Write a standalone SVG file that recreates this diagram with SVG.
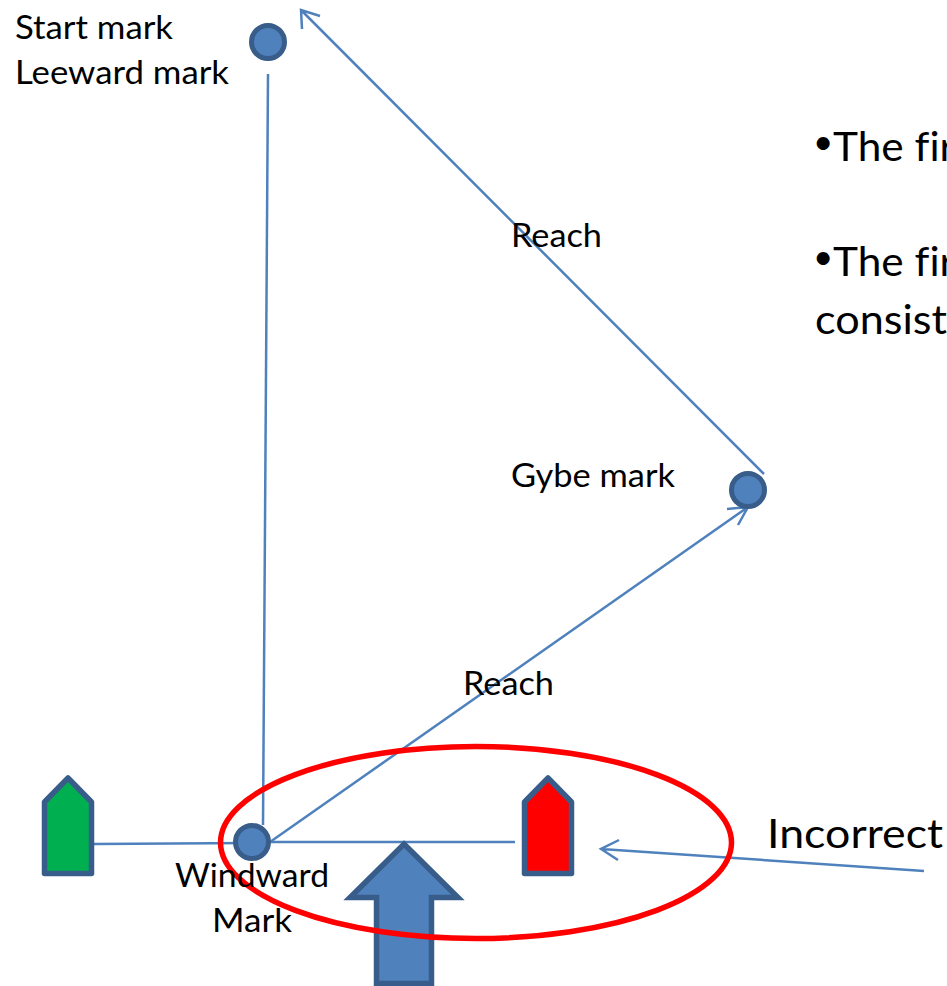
<svg xmlns="http://www.w3.org/2000/svg" width="947" height="986" viewBox="0 0 947 986">
<style>
text{font-family:"Lato","Open Sans","Liberation Sans",sans-serif;fill:#000;font-variant-ligatures:none}
.s{font-size:33px}
.l{font-size:41px}
.d{font-size:35px}
.c{fill:none;stroke:#4f81bd;stroke-width:2.5}
.m{fill:#4f81bd;stroke:#385d8a;stroke-width:5}
.b{stroke:#385d8a;stroke-width:5.5;stroke-linejoin:round}
</style>
<rect width="947" height="986" fill="#fff"/>
<g id="connectors">
<path class="c" d="M268 74L263 825"/>
<path class="c" d="M764 474L301 10M302 29L301 10L320 16"/>
<path class="c" d="M270 842L748 507M727 509L748 507L738 525"/>
<path class="c" d="M94 844L252 843"/>
<path class="c" d="M270 842L515 842"/>
<path class="c" d="M924 871L601 849M619 840L601 849L618 860"/>
</g>
<g id="start-mark"><circle class="m" cx="268" cy="42" r="16.5"/></g>
<g id="gybe-mark"><circle class="m" cx="748" cy="490" r="16.5"/></g>
<g id="windward-mark"><circle class="m" cx="252" cy="842" r="16.5"/></g>
<g id="green-boat"><path class="b" fill="#00b050" d="M68 778L91.500 802V873.500H44.500V802Z"/></g>
<g id="red-boat"><path class="b" fill="#f00" d="M548 778L571.500 802V873.500H524.500V802Z"/></g>
<g id="wind-arrow"><path fill="#4f81bd" stroke="#385d8a" stroke-width="5.500" d="M404 844L458 897.500H431.500V983.500H376.500V897.500H350Z"/></g>
<g id="incorrect-ellipse"><ellipse cx="476" cy="842.500" rx="255.500" ry="96" fill="none" stroke="#f00" stroke-width="5.500"/></g>
<g id="labels">
<text class="s" x="15" y="39" textLength="158" lengthAdjust="spacingAndGlyphs">Start mark</text>
<text class="s" x="15" y="84" textLength="214" lengthAdjust="spacingAndGlyphs">Leeward mark</text>
<text class="s" x="511" y="247" textLength="91" lengthAdjust="spacingAndGlyphs">Reach</text>
<text class="s" x="511" y="487" textLength="164" lengthAdjust="spacingAndGlyphs">Gybe mark</text>
<text class="s" x="463" y="695" textLength="91" lengthAdjust="spacingAndGlyphs">Reach</text>
<text class="s" x="175" y="887" textLength="154" lengthAdjust="spacingAndGlyphs">Windward</text>
<text class="s" x="212" y="932" textLength="80" lengthAdjust="spacingAndGlyphs">Mark</text>
<text class="l" x="767" y="848" textLength="176" lengthAdjust="spacingAndGlyphs">Incorrect</text>
<text class="l" y="161"><tspan class="d" x="813" dy="-7">•</tspan><tspan x="833" dy="7" textLength="122" lengthAdjust="spacingAndGlyphs">The fir</tspan></text>
<text class="l" y="276"><tspan class="d" x="813" dy="-7">•</tspan><tspan x="833" dy="7" textLength="122" lengthAdjust="spacingAndGlyphs">The fir</tspan></text>
<text class="l" x="815" y="334" textLength="132" lengthAdjust="spacingAndGlyphs">consist</text>
</g>
</svg>
